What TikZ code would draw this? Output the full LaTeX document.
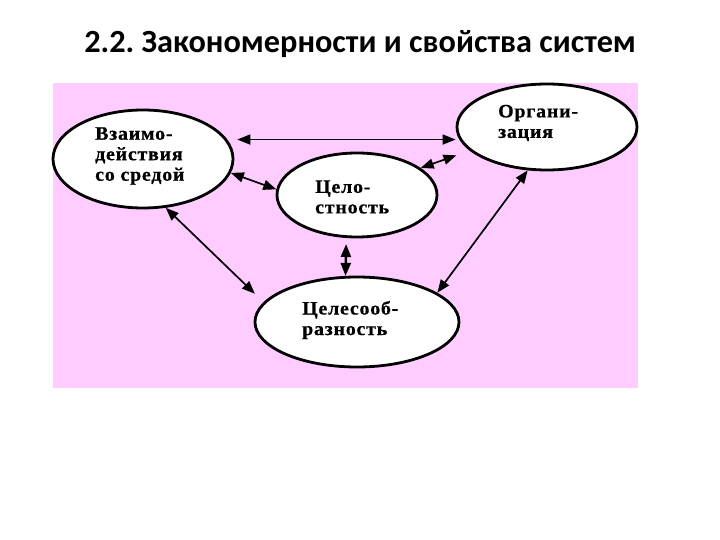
\documentclass[tikz,border=0pt]{standalone}
\usepackage{fontspec}
\setmainfont{Liberation Serif}
\newfontfamily\titlefont{Carlito}
\newfontfamily\lblfont[LetterSpace=4,FakeStretch=1.05,FakeBold=0.6]{Liberation Serif}
\usetikzlibrary{shapes.geometric,arrows.meta}
\definecolor{bgpink}{RGB}{255,204,255}
\frenchspacing
\tikzset{
  oval/.style={ellipse,draw=black,line width=2.8pt,fill=white,inner sep=0pt},
  lbl/.style={anchor=west,inner sep=0pt,align=left,font=\lblfont\bfseries\fontsize{19}{20.5}\selectfont},
  dbl/.style={{Triangle[length=13pt,width=10pt]}-{Triangle[length=13pt,width=10pt]},line width=1.7pt},
}
\begin{document}
\begin{tikzpicture}[x=1pt,y=-1pt]
\useasboundingbox (0,0) rectangle (720,540);
\fill[white] (0,0) rectangle (720,540);
\fill[bgpink] (53,83) rectangle (638,388);
\node[anchor=base,inner sep=0pt,font=\titlefont\bfseries\fontsize{32.3}{36}\selectfont] (title) at (360,53) {2.2. Закономерности и свойства систем};
\node[oval,minimum width=180pt,minimum height=98pt] (vz) at (143,159) {};
\node[oval,minimum width=180pt,minimum height=86pt] (org) at (547,127) {};
\node[oval,minimum width=160pt,minimum height=84pt] (cel) at (357,195) {};
\node[oval,minimum width=204pt,minimum height=90pt] (purp) at (357,322) {};
\node[lbl] (tvz) at (95,156) {Взаимо-\\действия\\со средой};
\node[lbl] (torg) at (498,123) {Органи-\\зация};
\node[lbl] (tcel) at (315,197) {Цело-\\стность};
\node[lbl] (tpurp) at (302,320) {Целесооб-\\разность};
\coordinate (h1) at ([xshift=10pt]vz.13);
\draw[dbl] (h1) -- (h1 -| org.west);
\draw[dbl] (vz.-9) -- (cel.176);
\draw[dbl,shorten >=14pt] (cel.23) -- (org.197);
\draw[dbl,shorten >=12pt] (vz.-65) -- (purp.168);
\draw[dbl] (org.246) -- (purp.20);
\draw[dbl,line width=2.4pt,shorten <=6pt] (cel.256) -- (purp.104);
\end{tikzpicture}
\end{document}
